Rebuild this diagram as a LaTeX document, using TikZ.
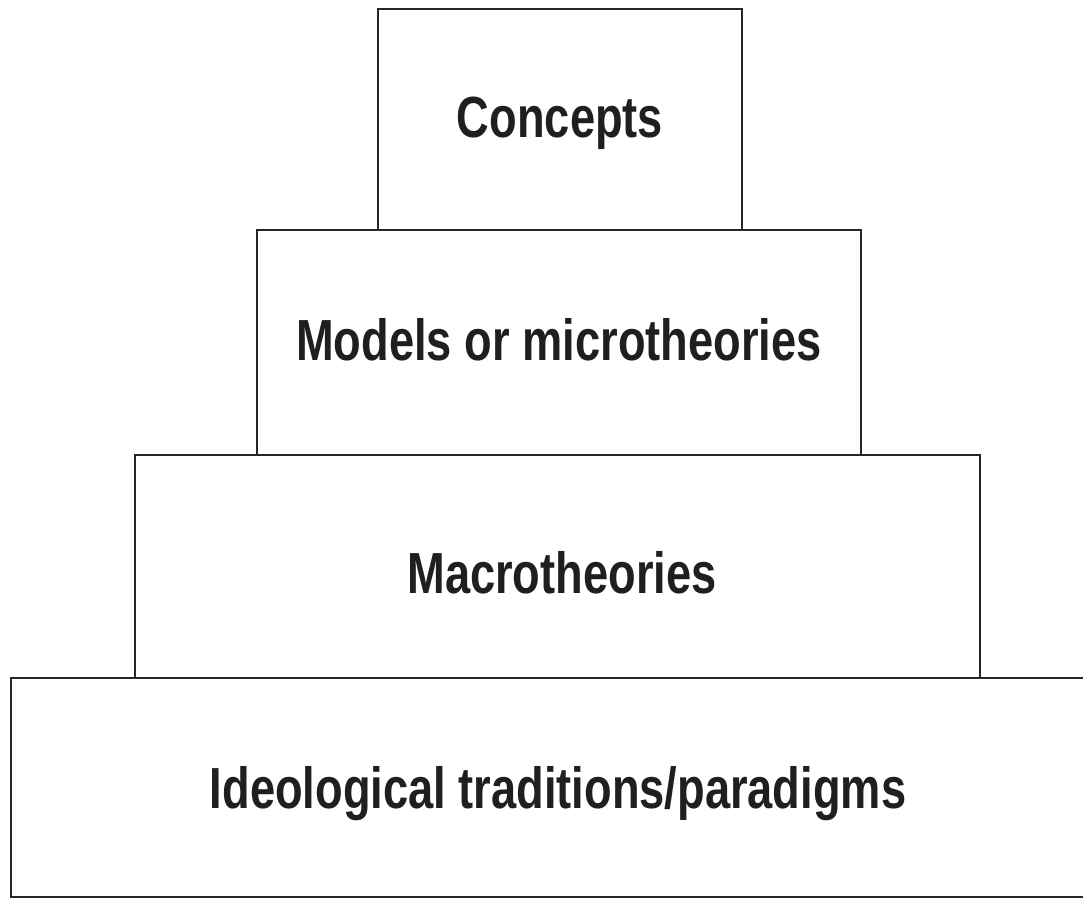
\documentclass[tikz,border=0pt]{standalone}
\usepackage{fontspec}
\newfontfamily\labelfont[FakeStretch=0.78]{Liberation Sans Bold}
\begin{document}
\begin{tikzpicture}[x=1pt,y=-1pt,
  tier/.style={draw=black!85, line width=1.8pt, rectangle, inner sep=0pt},
  lbl/.style={anchor=base, inner sep=0pt, text=black!88, font=\labelfont\fontsize{58}{60}\selectfont}]
\useasboundingbox (0,0) rectangle (1083,908);
\fill[white] (0,0) rectangle (1083,908);
% tiers
\node[tier, minimum width=364pt, minimum height=221pt] (t1) at (560,119.5) {};
\node[tier, minimum width=604pt, minimum height=225pt] (t2) at (559,342.5) {};
\node[tier, minimum width=845pt, minimum height=223pt] (t3) at (557.5,566.5) {};
\node[tier, minimum width=1189pt, minimum height=219pt] (t4) at (605.5,787.5) {};
% labels
\node[lbl] (l1) at (560,137) {Concepts};
\node[lbl] (l2) at (559,360) {Models or microtheories};
\node[lbl] (l3) at (562,593) {Macrotheories};
\node[lbl] (l4) at (558,808) {Ideological traditions/paradigms};
\end{tikzpicture}
\end{document}
